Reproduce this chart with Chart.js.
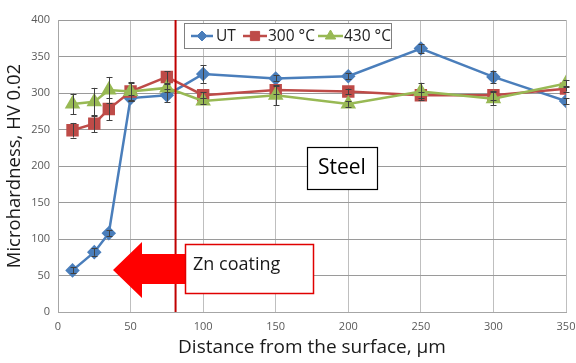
<!DOCTYPE html>
<html><head><meta charset="utf-8">
<script src="https://cdn.jsdelivr.net/npm/chart.js@4/dist/chart.umd.min.js"></script>
<style>html,body{margin:0;padding:0;background:#fff}#wrap{width:576px;height:363px}</style>
</head><body><div id="wrap"><canvas id="c" width="576" height="363"></canvas></div>
<script>
const distances = [10, 25, 35, 50, 75, 100, 150, 200, 250, 300, 350];
const seriesNames = ['UT', '300 °C', '430 °C'];
const utValues = [57, 82, 108, 293, 297, 326, 320, 323, 361, 322, 289];
const t300Values = [249, 258, 278, 302, 322, 297, 304, 302, 297, 297, 306];
const t430Values = [285, 288, 304, 302, 307, 289, 297, 285, 302, 292, 313];
const utErr = [4, 5, 4, 4, 9, 12, 4, 4, 6, 8, 4];
const t300Err = [10, 12, 15, 13, 8, 4, 6, 4, 4, 6, 4];
const t430Err = [14, 19, 18, 12, 5, 4, 14, 4, 12, 9, 5];
const coatingEdge = 81;
const xTicks = [0, 50, 100, 150, 200, 250, 300, 350];
const yTicks = [0, 50, 100, 150, 200, 250, 300, 350, 400];

const colors = ['#4A7EBB', '#BE4B48', '#98B954'];
const styles = ['rectRot', 'rect', 'triangle'];
const toPts = v => distances.map((d, i) => ({x: d, y: v[i]}));
const errs = [utErr, t300Err, t430Err];

const errorBars = {
  id: 'errorBars',
  afterDatasetsDraw(chart) {
    const ctx = chart.ctx, xs = chart.scales.x, ys = chart.scales.y;
    ctx.save();
    ctx.strokeStyle = '#404040'; ctx.lineWidth = 1;
    chart.data.datasets.forEach((ds, di) => {
      ds.data.forEach((p, i) => {
        const e = errs[di][i];
        const px = Math.round(xs.getPixelForValue(p.x)) + 0.5;
        const y1 = ys.getPixelForValue(p.y - e), y2 = ys.getPixelForValue(p.y + e);
        ctx.beginPath();
        ctx.moveTo(px, y1); ctx.lineTo(px, y2);
        ctx.moveTo(px - 3, Math.round(y1) + 0.5); ctx.lineTo(px + 3, Math.round(y1) + 0.5);
        ctx.moveTo(px - 3, Math.round(y2) + 0.5); ctx.lineTo(px + 3, Math.round(y2) + 0.5);
        ctx.stroke();
      });
    });
    ctx.restore();
  }
};

const annotations = {
  id: 'annot',
  afterDraw(chart) {
    const ctx = chart.ctx, xs = chart.scales.x, ca = chart.chartArea;
    ctx.save();
    const lx = xs.getPixelForValue(coatingEdge);
    ctx.strokeStyle = '#C00000'; ctx.lineWidth = 2;
    ctx.beginPath(); ctx.moveTo(lx, ca.top); ctx.lineTo(lx, ca.bottom); ctx.stroke();
    // arrow
    ctx.fillStyle = '#FF0000';
    ctx.beginPath();
    ctx.moveTo(113, 270);
    ctx.lineTo(142, 242);
    ctx.lineTo(142, 254);
    ctx.lineTo(190, 254);
    ctx.lineTo(190, 284);
    ctx.lineTo(142, 284);
    ctx.lineTo(142, 298);
    ctx.closePath(); ctx.fill();
    // Zn coating box
    ctx.fillStyle = '#fff'; ctx.fillRect(185, 244, 129, 50);
    ctx.strokeStyle = '#E00000'; ctx.lineWidth = 1.5;
    ctx.strokeRect(185.5, 244.5, 128, 49);
    ctx.fillStyle = '#1a1a1a';
    ctx.font = '18px "Open Sans", Calibri, sans-serif';
    ctx.textBaseline = 'middle'; ctx.textAlign = 'left';
    ctx.fillText('Zn coating', 193, 265);
    // Steel box
    ctx.fillStyle = '#fff'; ctx.fillRect(307, 147, 71, 43);
    ctx.strokeStyle = '#000'; ctx.lineWidth = 1.2;
    ctx.strokeRect(307.5, 147.5, 70, 42);
    ctx.fillStyle = '#000';
    ctx.font = '21px "Open Sans", Calibri, sans-serif';
    ctx.fillText('Steel', 318, 168);
    // legend
    ctx.fillStyle = '#fff'; ctx.fillRect(184, 23, 208, 26);
    ctx.strokeStyle = '#808080'; ctx.lineWidth = 1;
    ctx.strokeRect(184.5, 23.5, 207, 25);
    const lgX = [[191, 213], [243, 267], [318, 343]];
    const txX = [216, 268, 344];
    const radii = [5, 6.5, 6];
    ctx.font = '15.5px "Open Sans", Calibri, sans-serif';
    for (let i = 0; i < 3; i++) {
      const y = 36;
      ctx.strokeStyle = colors[i]; ctx.lineWidth = 2.5;
      ctx.beginPath(); ctx.moveTo(lgX[i][0], y); ctx.lineTo(lgX[i][1], y); ctx.stroke();
      ctx.fillStyle = colors[i]; ctx.lineWidth = 1;
      Chart.helpers.drawPoint(ctx, {pointStyle: styles[i], radius: radii[i], borderWidth: 1, rotation: 0}, (lgX[i][0] + lgX[i][1]) / 2, y);
      ctx.fillStyle = '#222';
      ctx.fillText(seriesNames[i], txX[i], y + 1);
    }
    ctx.restore();
  }
};

Chart.defaults.font.family = '"Open Sans", Calibri, sans-serif';

new Chart(document.getElementById('c'), {
  type: 'line',
  data: {
    datasets: [
      {label: seriesNames[0], data: toPts(utValues), borderColor: colors[0], backgroundColor: colors[0], pointStyle: styles[0], pointRadius: 5.5, borderWidth: 2.5, order: 2},
      {label: seriesNames[1], data: toPts(t300Values), borderColor: colors[1], backgroundColor: colors[1], pointStyle: styles[1], pointRadius: 7, borderWidth: 2.5, order: 1},
      {label: seriesNames[2], data: toPts(t430Values), borderColor: colors[2], backgroundColor: colors[2], pointStyle: styles[2], pointRadius: 6.5, borderWidth: 2.5, order: 0}
    ]
  },
  options: {
    responsive: false, animation: false,
    layout: {padding: {top: 20, right: 0, left: 0, bottom: 0}},
    plugins: {legend: {display: false}, tooltip: {enabled: false}},
    scales: {
      x: {
        type: 'linear', min: 0, max: 350,
        afterBuildTicks: s => { s.ticks = xTicks.map(v => ({value: v})); },
        afterFit: s => { s.height = 51; s.paddingRight = 10; },
        grid: {color: '#BFBFBF', lineWidth: 1, drawTicks: false},
        border: {color: '#A6A6A6'},
        ticks: {color: '#595959', font: {size: 11}, padding: 8},
        title: {display: true, text: 'Distance from the surface, µm', color: '#1a1a1a', font: {size: 19}, padding: {top: 2}}
      },
      y: {
        min: 0, max: 400,
        afterBuildTicks: s => { s.ticks = yTicks.map(v => ({value: v})); },
        afterFit: s => { s.width = 58; },
        grid: {color: '#9A9A9A', lineWidth: 1, drawTicks: false},
        border: {color: '#A6A6A6'},
        ticks: {color: '#595959', font: {size: 11}, padding: 8},
        title: {display: true, text: 'Microhardness, HV 0.02', color: '#1a1a1a', font: {size: 18.5}, padding: {bottom: 2}}
      }
    }
  },
  plugins: [errorBars, annotations]
});
</script></body></html>
